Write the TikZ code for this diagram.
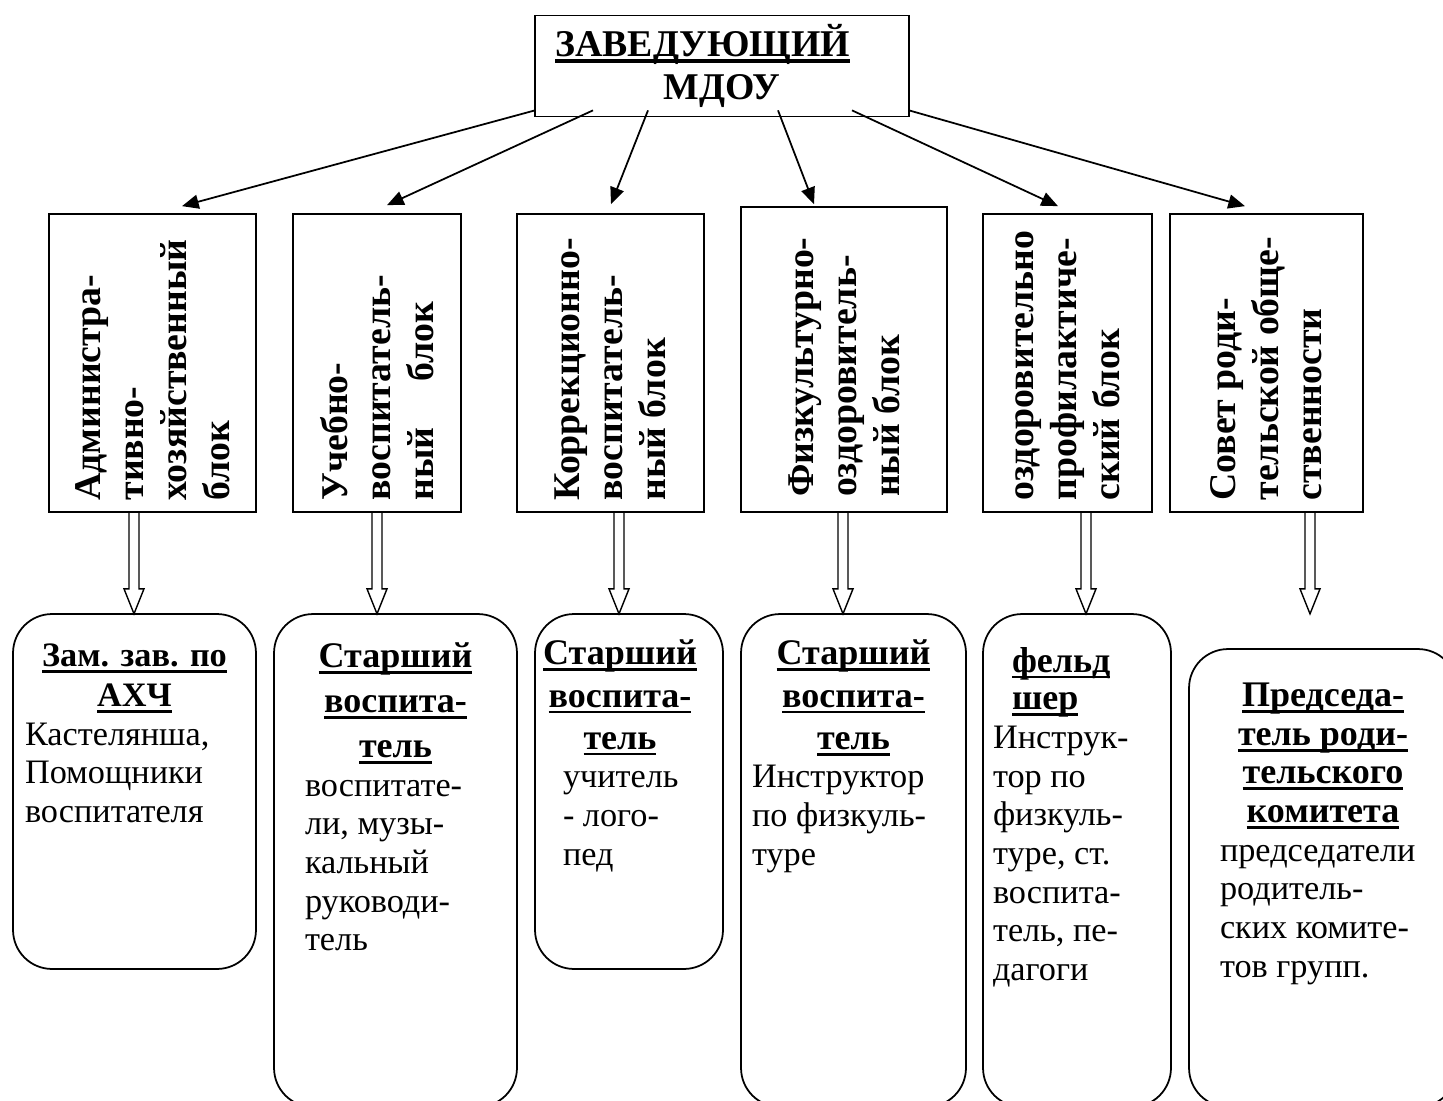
\documentclass[tikz,border=0pt]{standalone}
\usepackage{fontspec}
\setmainfont{Liberation Serif}
\usepackage{graphicx}
\usepackage{tikz}
\usetikzlibrary{arrows.meta, calc}

% underline with a fixed depth and thickness
\newsavebox{\hulbox}
\newcommand{\hul}[2][1.6pt]{\leavevmode\sbox{\hulbox}{#2}\rlap{\rule[-3.6pt]{\wd\hulbox}{#1}}\usebox{\hulbox}}

\newcommand{\blocktxt}{\fontsize{21.5}{24.5}\selectfont\bfseries}
\newcommand{\cardhdr}[1]{\fontsize{20.5}{#1}\selectfont\bfseries}
\newcommand{\cardtxt}{\fontsize{19.5}{22}\selectfont\mdseries}
\newcommand{\vtext}[1]{\rotatebox{90}{\parbox{5.5cm}{\blocktxt\raggedright #1}}}

\tikzset{
  chief/.style={draw, line width=1pt, inner sep=0pt, minimum width=7.48cm, minimum height=2.02cm, align=center, font=\blocktxt},
  block/.style={draw, line width=1pt, inner sep=0pt, minimum height=5.96cm},
  card/.style={draw, line width=1pt, inner sep=0pt, rounded corners=0.78cm},
  link/.style={line width=1pt, -{Triangle[length=9.5pt, width=8pt]}},
  dblarrow/.pic={
    \draw[line width=0.8pt] (-5,0) -- (-5,76) -- (-10,76) -- (0,101) -- (10,76) -- (5,76) -- (5,0);
  }
}

\begin{document}
\begin{tikzpicture}[x=0.02cm, y=-0.02cm]
  \useasboundingbox (0,0) rectangle (1443,1101);
  \clip (0,0) rectangle (1443,1101);

  % Head
  \node[chief] (top) at (722,66) {\hul[2.4pt]{ЗАВЕДУЮЩИЙ}\rule{22pt}{0pt}\\МДОУ};

  % Blocks (vertical text)
  \node[block, minimum width=4.14cm] (b1) at (152.5,363) {\vtext{Администра-\\тивно-\\хозяйственный\\блок}};
  \node[block, minimum width=3.36cm] (b2) at (377,363) {\vtext{Учебно-\\воспитатель-\\ный\hspace{26pt}блок}};
  \node[block, minimum width=3.74cm] (b3) at (610.5,363) {\vtext{Коррекционно-\\воспитатель-\\ный блок}};
  \node[block, minimum width=4.12cm, minimum height=6.1cm] (b4) at (844,359.5) {\vtext{Физкультурно-\\оздоровитель-\\ный блок}};
  \node[block, minimum width=3.38cm] (b5) at (1067.5,363) {\vtext{оздоровительно\\профилактиче-\\ский блок}};
  \node[block, minimum width=3.86cm] (b6) at (1266.5,363) {\vtext{Совет роди-\\тельской обще-\\ственности}};

  % Staff cards
  \node[card] (c1) at (134.5,791.5) {\parbox[c][7.1cm][t]{4.86cm}{\vspace*{0.6cm}\centering\fontsize{19.5}{22.7}\selectfont\bfseries
    \hul{Зам. зав. по}\\\hul{АХЧ}\par
    \raggedright\leftskip=0.24cm\cardtxt Кастелянша,\\Помощники\\воспитателя\par}};
  \node[card] (c2) at (395.5,860.5) {\parbox[c][9.86cm][t]{4.86cm}{\vspace*{0.58cm}\centering\cardhdr{25.5pt}
    \hul{Старший}\\\hul{воспита-}\\\hul{тель}\par
    \raggedright\leftskip=0.62cm\cardtxt воспитате-\\ли, музы-\\кальный\\руководи-\\тель\par}};
  \node[card] (c3) at (629,791.5) {\parbox[c][7.1cm][t]{3.76cm}{\vspace*{0.52cm}\centering\rightskip=0.36cm plus 1fil\cardhdr{24pt}
    \hul{Старший}\\\hul{воспита-}\\\hul{тель}\par
    \raggedright\leftskip=0.56cm\cardtxt учитель\\- лого-\\пед\par}};
  \node[card] (c4) at (853.5,860.5) {\parbox[c][9.86cm][t]{4.5cm}{\vspace*{0.52cm}\centering\cardhdr{24pt}
    \hul{Старший}\\\hul{воспита-}\\\hul{тель}\par
    \raggedright\leftskip=0.22cm\cardtxt Инструктор\\по физкуль-\\туре\par}};
  \node[card] (c5) at (1077,860.5) {\parbox[c][9.86cm][t]{3.76cm}{\vspace*{0.66cm}\raggedright\leftskip=0.58cm\cardhdr{21.5pt}
    \hul{фельд}\\\hul{шер}\par
    \leftskip=0.2cm\cardtxt Инструк-\\тор по\\физкуль-\\туре, ст.\\воспита-\\тель, пе-\\дагоги\par}};
  \node[card] (c6) at (1323,878) {\parbox[c][9.16cm][t]{5.36cm}{\vspace*{0.68cm}\centering\cardhdr{22pt}
    \hul{Председа-}\\\hul{тель роди-}\\\hul{тельского}\\\hul{комитета}\par
    \raggedright\leftskip=0.62cm\cardtxt председатели\\родитель-\\ских комите-\\тов групп.\par}};

  % Arrows from the head to the blocks
  \foreach \i/\sx/\dx/\dy in {1/-187/29.5/-7, 2/-129/10/-8, 3/-74/0.5/-9, 4/56/-30/-2, 5/130/-9.5/-7, 6/187/-21.5/-7}
    \draw[link] ($(top.south)+(\sx,-7)$) -- ($(b\i.north)+(\dx,\dy)$);

  % Hollow arrows from the blocks down to the cards
  \foreach \i/\dx in {1/-18.5, 2/0, 3/8.5, 4/-1, 5/18.5, 6/43.5}
    \pic at ($(b\i.south)+(\dx,0)$) {dblarrow};
\end{tikzpicture}
\end{document}
